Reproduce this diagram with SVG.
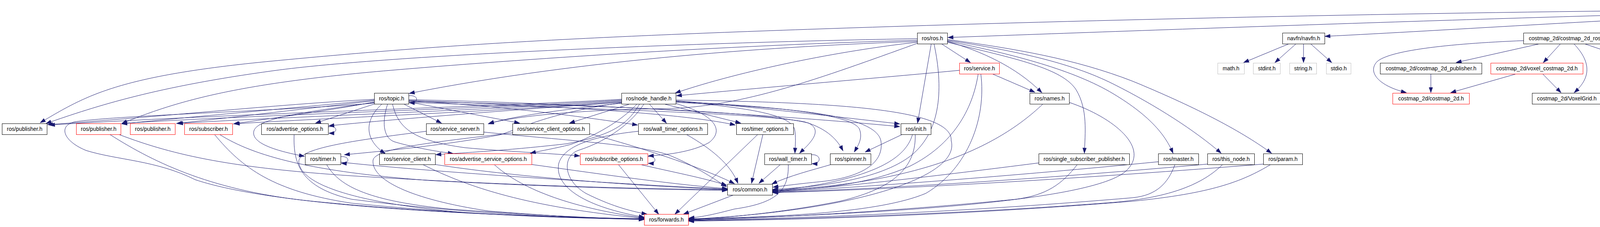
<svg xmlns="http://www.w3.org/2000/svg" width="5619" height="581" viewBox="0 0 5619 581">
<style>
.node rect{fill:#fff;stroke:#000;stroke-width:1}
.node.red rect{stroke:#f00}
.node.ext rect{stroke:#bfbfbf}
.node.root rect{fill:#bfbfbf}
.node text{font-family:"Liberation Sans",Arial,sans-serif;font-size:14px;fill:#000;text-anchor:middle}
#edges path{fill:none;stroke:#191970;stroke-width:1;marker-end:url(#a)}
</style>
<defs>
<marker id="a" markerWidth="14" markerHeight="10" refX="13" refY="4.5" orient="auto" markerUnits="userSpaceOnUse" overflow="visible"><path d="M0,0L13,4.5L0,9z" fill="#191970" stroke="#191970" stroke-width="1"/></marker>
</defs>
<rect width="5619" height="581" fill="#fff"/>
<g id="edges">
<path d="M4558,24 C3700,30 2800,50 2100,74 S1100,118 700,156 S220,245 103,314"/>
<path d="M4558,28 C4000,40 3000,75 2427,96"/>
<path d="M4558,32 C4200,45 3700,78 3392,93"/>
<path d="M4560,35 C4420,52 4250,70 4124,84"/>
<path d="M4562,35 C4470,50 4410,70 4395,115 C4385,165 4410,200 4441,237"/>
<path d="M4591,35 L4548,83"/>
<path d="M4622,35 C4648,68 4672,110 4688,160"/>
<path d="M4642,35 L4765,83"/>
<path d="M4654,30 L4920,83"/>
<path d="M4654,27 C4850,45 5000,68 5100,85"/>
<path d="M4654,25 C4850,38 5050,62 5184,83"/>
<path d="M4654,22 C4900,33 5200,55 5432,83"/>
<path d="M5508,112 L5508,160"/>
<path d="M3300,112 L3184,160"/>
<path d="M3318,112 L3264,160"/>
<path d="M3337,112 L3337,160"/>
<path d="M3355,112 L3409,160"/>
<path d="M3900,104 C3700,112 3555,130 3525,158 C3500,185 3530,220 3600,237"/>
<path d="M3942,112 L3728,160"/>
<path d="M3995,112 L3951,160"/>
<path d="M4029,112 C4075,160 4072,200 4030,237"/>
<path d="M4056,112 L4198,160"/>
<path d="M3663,189 L3663,237"/>
<path d="M3882,189 L3714,237"/>
<path d="M3949,189 L3996,237"/>
<path d="M4528,112 L4524,160"/>
<path d="M4508,189 L4472,237"/>
<path d="M4776,112 L4713,160"/>
<path d="M4808,112 L4838,160"/>
<path d="M2410,112 L2484,160"/>
<path d="M2384,112 L2349,315"/>
<path d="M2425,106 C2510,130 2600,170 2667,237"/>
<path d="M2425,108 C2600,150 2720,175 2755,230 C2785,280 2778,340 2776,392"/>
<path d="M2425,101 C2600,125 2750,150 2900,208 C3050,270 3170,330 3255,392"/>
<path d="M2425,103 C2600,130 2740,160 2850,215 C2960,270 3060,335 3126,392"/>
<path d="M2425,105 C2600,140 2750,180 2850,240 C2950,300 2985,350 3003,392"/>
<path d="M2391,112 C2410,200 2420,330 2330,400 C2250,460 2100,478 1978,485"/>
<path d="M2348,106 C2000,118 1500,150 1048,239"/>
<path d="M2348,108 C2150,130 1900,180 1729,238"/>
<path d="M2348,99 C1800,108 1000,140 700,181 S250,270 118,316"/>
<path d="M2348,103 C1900,115 1400,146 1000,180 S450,260 312,316"/>
<path d="M2348,111 C2100,200 1900,275 1700,278 C1500,281 1330,295 1251,316"/>
<path d="M2540,189 L2649,236"/>
<path d="M2456,180 C2300,195 2000,220 1732,245"/>
<path d="M2504,190 C2490,280 2440,370 2330,425 C2230,470 2100,485 1978,488"/>
<path d="M2511,190 C2525,300 2480,430 2370,495 C2250,545 2000,555 1763,560"/>
<path d="M2669,267 C2550,380 2350,470 1978,487"/>
<path d="M2737,262 C2850,300 2950,380 2880,440 C2780,520 2200,550 1763,562"/>
<path d="M2310,344 L2215,389"/>
<path d="M2336,344 C2320,400 2250,460 1978,489"/>
<path d="M2343,344 C2345,420 2300,480 2150,515 C2000,545 1850,558 1763,562"/>
<path d="M2128,421 C2080,435 2020,450 1976,471"/>
<path d="M2659,417 C2400,450 2150,480 1978,490"/>
<path d="M2758,421 C2720,470 2680,500 2600,510 C2300,540 2000,557 1763,563"/>
<path d="M2965,414 C2600,450 2200,480 1978,491"/>
<path d="M3008,421 C2990,470 2960,500 2900,506 C2500,540 2100,558 1763,564"/>
<path d="M3091,420 C2700,455 2300,482 1978,492"/>
<path d="M3130,421 C3080,470 3000,505 2850,518 C2500,545 2100,560 1763,565"/>
<path d="M3234,420 C2800,455 2300,485 1978,493"/>
<path d="M3253,421 C3180,465 3100,495 2900,515 C2500,548 2100,562 1763,566"/>
<path d="M958,254 C700,268 400,300 122,319"/>
<path d="M958,256 C800,272 500,298 312,317"/>
<path d="M958,258 C800,276 600,300 452,316"/>
<path d="M958,261 C850,282 700,302 598,317"/>
<path d="M1591,254 C1300,272 600,290 127,320"/>
<path d="M1591,256 C1300,276 600,296 312,316"/>
<path d="M1591,258 C1300,280 700,300 455,316"/>
<path d="M1591,260 C1300,284 800,304 600,317"/>
<path d="M959,266 L808,315"/>
<path d="M1591,262 C1300,282 1000,306 842,322"/>
<path d="M840,325 C864,320 868,341 842,341"/>
<path d="M1046,245 C1072,242 1074,264 1048,263"/>
<path d="M1035,267 L1130,315"/>
<path d="M1591,264 C1450,280 1320,295 1250,317"/>
<path d="M1052,262 L1330,315"/>
<path d="M1610,267 L1458,315"/>
<path d="M1663,267 L1706,315"/>
<path d="M1046,258 C1300,272 1500,300 1632,320"/>
<path d="M1703,267 L1896,315"/>
<path d="M1046,257 C1400,270 1750,290 1882,320"/>
<path d="M1730,258 C1900,270 2150,300 2303,317"/>
<path d="M1046,255 C1500,265 2000,295 2303,324"/>
<path d="M1730,260 C1950,270 2180,290 2200,330 C2210,355 2195,375 2187,389"/>
<path d="M1046,262 C1500,278 1950,290 2060,312 C2120,330 2145,360 2158,386"/>
<path d="M1730,262 C2000,275 2240,290 2255,360 C2265,420 2200,455 2100,465 C2050,470 2010,475 1979,479"/>
<path d="M958,264 C700,285 300,295 190,312 C150,322 160,360 220,385 C300,410 400,410 500,460 C650,510 1000,548 1649,560"/>
<path d="M1730,256 C2150,262 2440,280 2435,360 C2460,450 2200,540 1763,561"/>
<path d="M1648,267 C1620,310 1560,360 1480,385 C1440,400 1440,460 1500,495 C1560,525 1610,540 1656,548"/>
<path d="M1634,336 C1500,350 1440,380 1430,420 C1420,480 1500,530 1649,556"/>
<path d="M281,344 C400,420 550,490 800,515 C1100,545 1400,556 1649,560"/>
<path d="M304,344 C450,400 600,430 900,450 C1300,475 1600,482 1862,486"/>
<path d="M549,344 C620,430 700,490 900,520 C1200,550 1450,558 1649,561"/>
<path d="M562,344 C650,400 800,440 1100,462 C1400,478 1650,485 1862,487"/>
<path d="M753,344 C750,420 770,480 900,510 C1200,548 1450,557 1649,562"/>
<path d="M1238,338 C1450,360 1650,370 1720,400 C1790,430 1830,460 1860,478"/>
<path d="M1091,336 C900,360 760,380 765,415 C770,470 900,520 1200,545 C1400,557 1550,560 1649,561"/>
<path d="M1312,340 C1100,365 960,380 955,410 C950,460 1050,510 1250,540 C1450,556 1560,560 1649,561"/>
<path d="M1509,342 C1650,380 1800,430 1880,470"/>
<path d="M1757,344 C1820,380 1870,420 1889,469"/>
<path d="M1940,344 L1728,548"/>
<path d="M1953,344 L1924,469"/>
<path d="M958,262 C800,285 660,300 650,335 C642,365 700,385 779,400"/>
<path d="M1591,263 C1400,290 1330,330 1280,345 C1150,370 1000,385 882,396"/>
<path d="M872,401 C895,398 898,419 874,418"/>
<path d="M836,421 C870,480 950,515 1150,535 C1400,553 1550,559 1649,561"/>
<path d="M872,415 C1100,440 1600,472 1862,484"/>
<path d="M977,267 C930,310 935,360 986,393"/>
<path d="M1637,267 C1610,310 1580,345 1450,368 C1300,385 1200,390 1116,396"/>
<path d="M992,267 C975,320 985,355 1010,363 C1060,378 1120,388 1160,393"/>
<path d="M1630,267 C1590,310 1520,350 1460,370 C1420,380 1390,385 1358,392"/>
<path d="M1265,421 C1330,480 1450,530 1649,558"/>
<path d="M1361,421 C1500,440 1700,470 1862,483"/>
<path d="M1082,421 C1200,480 1350,530 1649,559"/>
<path d="M1114,421 C1300,450 1600,475 1862,485"/>
<path d="M1005,267 C1020,330 1060,360 1190,378 C1300,388 1400,392 1484,399"/>
<path d="M1730,265 C1820,290 1860,330 1815,365 C1770,390 1700,397 1660,399"/>
<path d="M1658,401 C1681,398 1684,419 1660,418"/>
<path d="M1583,421 L1686,548"/>
<path d="M1639,421 C1720,440 1800,455 1860,474"/>
<path d="M1730,259 C1900,275 2020,290 2034,330 C2038,350 2036,370 2035,392"/>
<path d="M1046,260 C1500,268 1950,285 2070,315 C2110,335 2070,370 2047,392"/>
<path d="M2077,396 C2103,394 2104,420 2079,419"/>
<path d="M1998,421 L1943,469"/>
<path d="M2018,421 C2020,490 1985,520 1880,535 C1830,548 1800,555 1764,558"/>
<path d="M1878,499 L1750,548"/>
</g>
<g id="n0" class="node root"><rect x="4558.5" y="7.5" width="96" height="28"/><text x="4606.5" y="26">navfn_ros.h</text></g>
<g id="n1" class="node"><rect x="2348.5" y="84.5" width="77" height="28"/><text x="2387" y="103">ros/ros.h</text></g>
<g id="n2" class="node"><rect x="3283.5" y="84.5" width="108" height="28"/><text x="3337.5" y="103">navfn/navfn.h</text></g>
<g id="n3" class="node"><rect x="3900.5" y="84.5" width="222" height="28"/><text x="4011.5" y="103">costmap_2d/costmap_2d_ros.h</text></g>
<g id="n4" class="node"><rect x="4415.5" y="84.5" width="231" height="28"/><text x="4531" y="103">geometry_msgs/PoseStamped.h</text></g>
<g id="n5" class="node"><rect x="4721.5" y="84.5" width="152" height="28"/><text x="4797.5" y="103">nav_msgs/GetPlan.h</text></g>
<g id="n6" class="node"><rect x="4897.5" y="84.5" width="180" height="28"/><text x="4987.5" y="103">tf/transform_datatypes.h</text></g>
<g id="n7" class="node ext"><rect x="5100.5" y="84.5" width="61" height="28"/><text x="5131" y="103">vector</text></g>
<g id="n8" class="node"><rect x="5185.5" y="84.5" width="226" height="28"/><text x="5298.5" y="103">nav_core/base_global_planner.h</text></g>
<g id="n9" class="node"><rect x="5433.5" y="84.5" width="151" height="28"/><text x="5509" y="103">navfn/potarr_point.h</text></g>
<g id="n10" class="node ext"><rect x="5403.5" y="161.5" width="211" height="28"/><text x="5509" y="180">pcl/ros/register_point_struct.h</text></g>
<g id="n11" class="node red"><rect x="2456.5" y="161.5" width="102" height="28"/><text x="2507.5" y="180">ros/service.h</text></g>
<g id="n12" class="node ext"><rect x="3117.5" y="161.5" width="68" height="28"/><text x="3151.5" y="180">math.h</text></g>
<g id="n13" class="node ext"><rect x="3208.5" y="161.5" width="69" height="28"/><text x="3243" y="180">stdint.h</text></g>
<g id="n14" class="node ext"><rect x="3301.5" y="161.5" width="69" height="28"/><text x="3336" y="180">string.h</text></g>
<g id="n15" class="node ext"><rect x="3395.5" y="161.5" width="63" height="28"/><text x="3427" y="180">stdio.h</text></g>
<g id="n16" class="node"><rect x="3533.5" y="161.5" width="260" height="28"/><text x="3663.5" y="180">costmap_2d/costmap_2d_publisher.h</text></g>
<g id="n17" class="node red"><rect x="3816.5" y="161.5" width="236" height="28"/><text x="3934.5" y="180">costmap_2d/voxel_costmap_2d.h</text></g>
<g id="n18" class="node red"><rect x="4125.5" y="161.5" width="235" height="28"/><text x="4243" y="180">costmap_2d/observation_buffer.h</text></g>
<g id="n19" class="node red"><rect x="4434.5" y="161.5" width="172" height="28"/><text x="4520.5" y="180">geometry_msgs/Pose.h</text></g>
<g id="n20" class="node"><rect x="4629.5" y="161.5" width="131" height="28"/><text x="4695" y="180">nav_msgs/Path.h</text></g>
<g id="n21" class="node red"><rect x="4784.5" y="161.5" width="131" height="28"/><text x="4850" y="180">nav_msgs/Path.h</text></g>
<g id="n22" class="node"><rect x="958.5" y="238.5" width="88" height="28"/><text x="1002.5" y="257">ros/topic.h</text></g>
<g id="n23" class="node"><rect x="1591.5" y="238.5" width="139" height="28"/><text x="1661" y="257">ros/node_handle.h</text></g>
<g id="n24" class="node"><rect x="2636.5" y="238.5" width="101" height="28"/><text x="2687" y="257">ros/names.h</text></g>
<g id="n25" class="node red"><rect x="3565.5" y="238.5" width="196" height="28"/><text x="3663.5" y="257">costmap_2d/costmap_2d.h</text></g>
<g id="n26" class="node"><rect x="3922.5" y="238.5" width="177" height="28"/><text x="4011" y="257">costmap_2d/VoxelGrid.h</text></g>
<g id="n27" class="node"><rect x="4372.5" y="238.5" width="173" height="28"/><text x="4459" y="257">geometry_msgs/Point.h</text></g>
<g id="n28" class="node"><rect x="5.5" y="316.5" width="115" height="28"/><text x="63" y="335">ros/publisher.h</text></g>
<g id="n29" class="node red"><rect x="195.5" y="316.5" width="114" height="28"/><text x="252.5" y="335">ros/publisher.h</text></g>
<g id="n30" class="node red"><rect x="333.5" y="316.5" width="115" height="28"/><text x="391" y="335">ros/publisher.h</text></g>
<g id="n31" class="node red"><rect x="472.5" y="316.5" width="123" height="28"/><text x="534" y="335">ros/subscriber.h</text></g>
<g id="n32" class="node"><rect x="669.5" y="316.5" width="171" height="28"/><text x="755" y="335">ros/advertise_options.h</text></g>
<g id="n33" class="node"><rect x="1091.5" y="316.5" width="147" height="28"/><text x="1165" y="335">ros/service_server.h</text></g>
<g id="n34" class="node"><rect x="1312.5" y="316.5" width="197" height="28"/><text x="1411" y="335">ros/service_client_options.h</text></g>
<g id="n35" class="node"><rect x="1634.5" y="316.5" width="177" height="28"/><text x="1723" y="335">ros/wall_timer_options.h</text></g>
<g id="n36" class="node"><rect x="1885.5" y="316.5" width="146" height="28"/><text x="1958.5" y="335">ros/timer_options.h</text></g>
<g id="n37" class="node"><rect x="2306.5" y="316.5" width="77" height="28"/><text x="2345" y="335">ros/init.h</text></g>
<g id="n38" class="node"><rect x="781.5" y="393.5" width="91" height="28"/><text x="827" y="412">ros/timer.h</text></g>
<g id="n39" class="node"><rect x="971.5" y="393.5" width="143" height="28"/><text x="1043" y="412">ros/service_client.h</text></g>
<g id="n40" class="node red"><rect x="1138.5" y="393.5" width="223" height="28"/><text x="1250" y="412">ros/advertise_service_options.h</text></g>
<g id="n41" class="node red"><rect x="1485.5" y="393.5" width="173" height="28"/><text x="1572" y="412">ros/subscribe_options.h</text></g>
<g id="n42" class="node"><rect x="1957.5" y="393.5" width="120" height="28"/><text x="2017.5" y="412">ros/wall_timer.h</text></g>
<g id="n43" class="node"><rect x="2125.5" y="393.5" width="104" height="28"/><text x="2177.5" y="412">ros/spinner.h</text></g>
<g id="n44" class="node"><rect x="2659.5" y="393.5" width="232" height="28"/><text x="2775.5" y="412">ros/single_subscriber_publisher.h</text></g>
<g id="n45" class="node"><rect x="2965.5" y="393.5" width="103" height="28"/><text x="3017" y="412">ros/master.h</text></g>
<g id="n46" class="node"><rect x="3091.5" y="393.5" width="120" height="28"/><text x="3151.5" y="412">ros/this_node.h</text></g>
<g id="n47" class="node"><rect x="3234.5" y="393.5" width="100" height="28"/><text x="3284.5" y="412">ros/param.h</text></g>
<g id="n48" class="node"><rect x="1862.5" y="471.5" width="115" height="28"/><text x="1920" y="490">ros/common.h</text></g>
<g id="n49" class="node red"><rect x="1649.5" y="548.5" width="113" height="28"/><text x="1706" y="567">ros/forwards.h</text></g>
</svg>
